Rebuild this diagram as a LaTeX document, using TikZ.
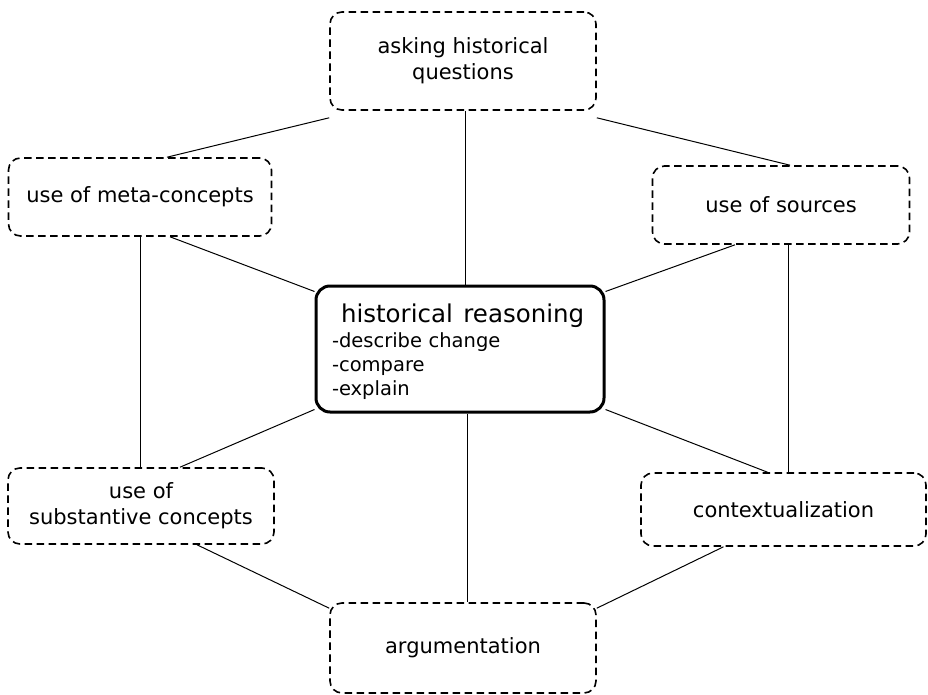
\documentclass[tikz,border=0pt]{standalone}
\usepackage{fontspec}
\setmainfont{DejaVu Sans}
\begin{document}
\begin{tikzpicture}[x=1pt,y=-1pt,
  box/.style={draw=black, line width=1.6pt, dash pattern=on 7.5pt off 4.5pt, rounded corners=12pt,
    inner sep=0pt, align=center, font=\fontsize{21}{26}\selectfont},
  core/.style={draw=black, line width=3pt, rounded corners=14pt, inner sep=0pt,
    minimum width=288pt, minimum height=126pt, text width=256pt, align=left,
    font=\fontsize{19.5}{24}\selectfont},
  link/.style={draw=black, line width=1pt}]
\useasboundingbox (0,0) rectangle (928,695);
\node[box, minimum width=266pt, minimum height=98pt] (ask) at (463,61) {asking historical\\questions};
\node[box, minimum width=263pt, minimum height=78pt] (meta) at (140,197) {use of meta-concepts};
\node[box, minimum width=257pt, minimum height=78pt] (src) at (781,205) {use of sources};
\node[core] (hr) at (460,349) {\rule{0pt}{25pt}\hspace*{9pt}{\fontsize{24.5}{24}\selectfont historical\hspace{4pt} reasoning}\\[1pt]-describe change\\-compare\\-explain};
\node[box, minimum width=266pt, minimum height=76pt] (sub) at (141,506) {use of\\substantive concepts};
\node[box, minimum width=285pt, minimum height=73pt] (ctx) at (783.5,509.5) {contextualization};
\node[box, minimum width=266pt, minimum height=90pt] (arg) at (463,648) {argumentation};

\draw[link] ([xshift=2pt]ask.south) -- ([xshift=5pt]hr.north);
\draw[link] ([yshift=-7pt]ask.south west) -- ([xshift=27pt]meta.north);
\draw[link] ([yshift=-7pt]ask.south east) -- ([xshift=9pt]src.north);
\draw[link] ([xshift=30pt]meta.south) -- ([yshift=-7pt]hr.north west);
\draw[link] (meta.south) -- (meta.south |- sub.north);
\draw[link] ([xshift=-46pt]src.south) -- ([yshift=-7pt]hr.north east);
\draw[link] ([xshift=7pt]src.south) -- ([xshift=7pt]src.south |- ctx.north);
\draw[link] ([yshift=4pt]hr.south west) -- ([xshift=39pt]sub.north);
\draw[link] ([xshift=7pt]hr.south) -- ([xshift=7pt]hr.south |- arg.north);
\draw[link] ([yshift=4pt]hr.south east) -- ([xshift=-16pt]ctx.north);
\draw[link] ([xshift=56pt]sub.south) -- ([yshift=-6pt]arg.north west);
\draw[link] ([xshift=-60pt]ctx.south) -- ([yshift=-6pt]arg.north east);
\end{tikzpicture}
\end{document}
